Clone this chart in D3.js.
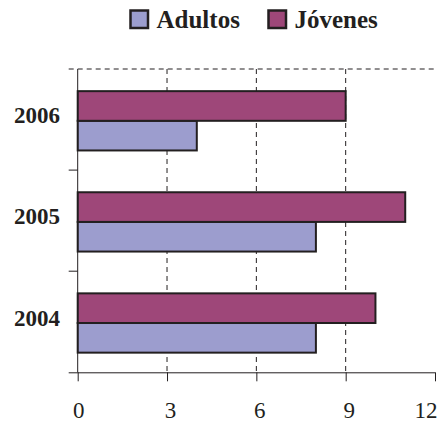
<!DOCTYPE html>
<html><head><meta charset="utf-8">
<script src="https://cdn.jsdelivr.net/npm/d3@7"></script>
<style>body{margin:0;background:#fff}svg{display:block}</style>
</head><body>
<script>
const categories = ["2004", "2005", "2006"];
const seriesNames = ["Adultos", "Jóvenes"];
const adultos = [8, 8, 4];
const jovenes = [10, 11, 9];
const xTicks = [0, 3, 6, 9, 12];
const colors = ["#9c9dce", "#9e4779"];

const W = 444, H = 423;
const m = {left: 77.7, right: 9, top: 69, bottom: 50.7};
const svg = d3.select("body").append("svg").attr("width", W).attr("height", H);
const font = "'Liberation Serif','Times New Roman',serif";

const x = d3.scaleLinear().domain([0, 12]).range([m.left, W - m.right]);
const y = d3.scaleBand().domain(categories.slice().reverse()).range([m.top, H - m.bottom]).paddingInner(0).paddingOuter(0);
const inner = d3.scaleBand().domain(["Jóvenes", "Adultos"]).range([0, y.bandwidth()]).paddingInner(0).paddingOuter(0.705).align(0.53);

// grid
const g = svg.append("g");
g.selectAll("line.grid").data([3, 6, 9]).join("line")
  .attr("x1", d => x(d)).attr("x2", d => x(d))
  .attr("y1", m.top).attr("y2", H - m.bottom)
  .attr("stroke", "#231f20").attr("stroke-width", 1).attr("stroke-dasharray", "5,4");
g.append("line").attr("x1", m.left - 9).attr("x2", W - m.right)
  .attr("y1", m.top).attr("y2", m.top)
  .attr("stroke", "#231f20").attr("stroke-width", 1).attr("stroke-dasharray", "5,4");

// bars
const data = categories.map((c, i) => ({c, vals: [{k: "Adultos", v: adultos[i], col: colors[0]}, {k: "Jóvenes", v: jovenes[i], col: colors[1]}]}));
const grp = svg.append("g").selectAll("g").data(data).join("g")
  .attr("transform", d => `translate(0,${y(d.c)})`);
grp.selectAll("rect").data(d => d.vals).join("rect")
  .attr("x", x(0)).attr("y", d => inner(d.k))
  .attr("width", d => x(d.v) - x(0)).attr("height", inner.bandwidth())
  .attr("fill", d => d.col).attr("stroke", "#231f20").attr("stroke-width", 2);

// axes
const xAxis = d3.axisBottom(x).tickValues(xTicks).tickSize(9).tickPadding(20).tickFormat(d3.format("d"));
const xa = svg.append("g").attr("transform", `translate(0,${H - m.bottom})`).call(xAxis);
xa.select(".domain").attr("d", `M${m.left - 9},0.5H${W - m.right}`).attr("stroke", "#231f20");
xa.selectAll(".tick line").attr("stroke", "#231f20");
xa.selectAll("text").attr("font-family", font).attr("font-size", 23).attr("fill", "#231f20")
  .attr("text-anchor", d => d === 12 ? "end" : "middle")
  .attr("dx", d => d === 12 ? 2 : (d === 0 ? 0.5 : 3));

svg.append("line").attr("x1", m.left).attr("x2", m.left).attr("y1", m.top).attr("y2", H - m.bottom).attr("stroke", "#231f20");
// category boundary ticks
const bounds = categories.slice(1).map(c => y(c) + y.bandwidth());
svg.selectAll("line.bt").data(bounds).join("line")
  .attr("x1", m.left - 9).attr("x2", m.left).attr("y1", d => d).attr("y2", d => d).attr("stroke", "#231f20");
svg.selectAll("text.cat").data(categories).join("text")
  .attr("x", 60).attr("y", d => y(d) + y.bandwidth() / 2 - 1.5)
  .attr("text-anchor", "end").attr("dominant-baseline", "middle")
  .attr("font-family", font).attr("font-weight", "bold").attr("font-size", 23).attr("fill", "#231f20")
  .text(d => d);

// legend
const legX = [130.5, 268.5];
const lg = svg.append("g").selectAll("g").data(seriesNames).join("g")
  .attr("transform", (d, i) => `translate(${legX[i]},10.5)`);
lg.append("rect").attr("width", 17.5).attr("height", 17.5).attr("fill", (d, i) => colors[i])
  .attr("stroke", "#231f20").attr("stroke-width", 2.5);
lg.append("text").attr("x", 26).attr("y", 17).attr("font-family", font).attr("font-weight", "bold")
  .attr("font-size", 25).attr("fill", "#231f20").text(d => d);
</script>
</body></html>
